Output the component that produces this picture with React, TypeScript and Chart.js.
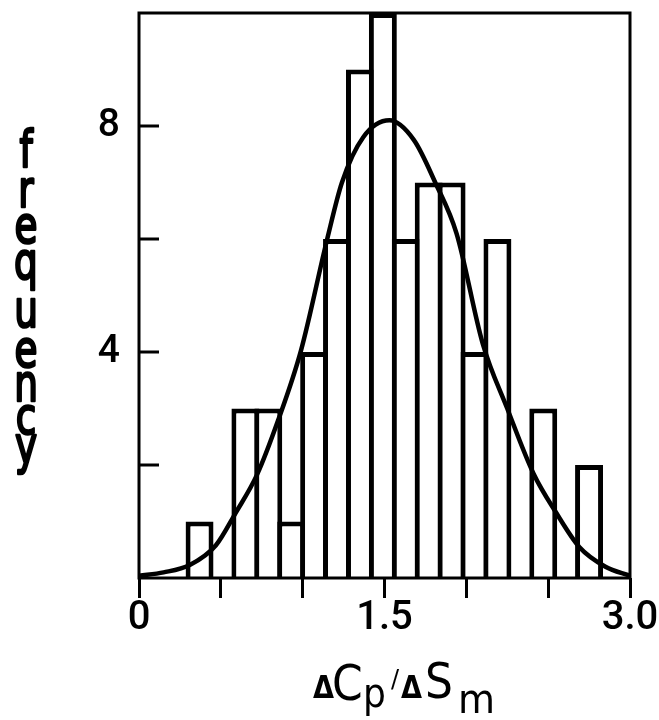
import React, { useEffect, useRef } from "react";
import { Chart, registerables } from "chart.js";

Chart.register(...registerables);

// Histogram bins (centres) and counts
const binCenters = [0.37, 0.51, 0.65, 0.79, 0.93, 1.07, 1.21, 1.35, 1.49, 1.63, 1.77, 1.91, 2.05, 2.19, 2.33, 2.47, 2.61, 2.75];
const binCounts = [1, 0, 3, 3, 1, 4, 6, 9, 10, 6, 7, 7, 4, 6, 0, 3, 0, 2];

// Fitted distribution curve
const curveX = [0, 0.15, 0.31, 0.47, 0.59, 0.72, 0.85, 0.99, 1.15, 1.24, 1.37, 1.53, 1.68, 1.81, 1.94, 2.10, 2.25, 2.41, 2.55, 2.69, 2.85, 3.0];
const curveY = [0.04, 0.1, 0.23, 0.58, 1.15, 1.82, 2.79, 4.03, 6.0, 7.0, 7.8, 8.1, 7.75, 7.0, 6.1, 4.15, 3.0, 1.85, 1.15, 0.55, 0.2, 0.04];

// Axes
const xMin = 0;
const xMax = 3.0;
const xTickStep = 0.5;
const xLabelValues = [0, 1.5, 3.0];
const yMin = 0;
const yMax = 10;
const yTickMarks = [2, 4, 6, 8];
const yLabelValues = [4, 8];
const yTitleLetters = ["f", "r", "e", "q", "u", "e", "n", "c", "y"];

const TICK_FAM = "Roboto, 'Liberation Sans', sans-serif";
const TITLE_FAM = "'DejaVu Sans', sans-serif";

const decor = {
  id: "decor",
  afterDraw(chart: any) {
    const { ctx, chartArea: ca, scales } = chart;
    ctx.save();
    ctx.strokeStyle = "#000";
    ctx.fillStyle = "#000";
    ctx.lineWidth = 3;
    ctx.lineCap = "butt";
    ctx.strokeRect(ca.left, ca.top, ca.right - ca.left, ca.bottom - ca.top);
    for (const v of yTickMarks) {
      const y = scales.y.getPixelForValue(v);
      ctx.beginPath();
      ctx.moveTo(ca.left, y);
      ctx.lineTo(ca.left + 20, y);
      ctx.stroke();
    }
    // y title: stacked upright letters (condensed horizontally)
    const baselines = [167, 207, 243, 279, 327, 367, 401, 434, 463];
    ctx.textAlign = "center";
    ctx.textBaseline = "alphabetic";
    ctx.font = `52px ${TITLE_FAM}`;
    ctx.lineWidth = 2.6;
    ctx.lineJoin = "round";
    yTitleLetters.forEach((ch, i) => {
      ctx.save();
      ctx.translate(26, baselines[i]);
      ctx.scale(0.72, 1);
      ctx.fillText(ch, 0, 0);
      ctx.strokeText(ch, 0, 0);
      ctx.restore();
    });
    // x title: ΔCp/ΔSm
    const piece = (txt: string, font: string, x: number, y: number, sx: number) => {
      ctx.save();
      ctx.font = font;
      ctx.textAlign = "left";
      ctx.translate(x, y);
      ctx.scale(sx, 1);
      ctx.fillText(txt, 0, 0);
      ctx.restore();
    };
    piece("Δ", `bold 32px ${TITLE_FAM}`, 313, 698, 0.85);
    piece("C", `50px ${TITLE_FAM}`, 332, 700, 0.88);
    piece("p", `40px ${TITLE_FAM}`, 363, 707, 0.9);
    piece("/", `24px ${TITLE_FAM}`, 391, 687, 1);
    piece("Δ", `bold 32px ${TITLE_FAM}`, 401, 698, 0.85);
    piece("S", `50px ${TITLE_FAM}`, 425, 698, 0.88);
    piece("m", `40px ${TITLE_FAM}`, 458, 713, 0.95);
    ctx.restore();
  },
};

export default function App() {
  const ref = useRef<HTMLCanvasElement | null>(null);

  useEffect(() => {
    const canvas = ref.current;
    if (!canvas) return;
    const chart = new Chart(canvas, {
      type: "bar",
      data: {
        datasets: [
          {
            type: "line",
            data: curveX.map((x, i) => ({ x, y: curveY[i] })),
            borderColor: "#000",
            borderWidth: 4.5,
            pointRadius: 0,
            fill: false,
            cubicInterpolationMode: "monotone",
          } as any,
          {
            type: "bar",
            data: binCenters.map((x, i) => ({ x, y: binCounts[i] })),
            backgroundColor: "#fff",
            borderColor: "#000",
            borderWidth: 5,
            borderSkipped: "start",
            categoryPercentage: 1,
            barPercentage: 1.219,
          } as any,
        ],
      },
      options: {
        animation: false,
        responsive: false,
        devicePixelRatio: 1,
        layout: { padding: { left: 0, top: 13, right: 29, bottom: 0 } },
        plugins: { legend: { display: false }, tooltip: { enabled: false } },
        scales: {
          x: {
            type: "linear",
            min: xMin,
            max: xMax,
            offset: false,
            border: { display: false },
            grid: {
              display: true,
              offset: false,
              drawOnChartArea: false,
              drawTicks: true,
              tickLength: 20,
              tickWidth: 3,
              tickColor: "#000",
              color: "#000",
            },
            ticks: {
              stepSize: xTickStep,
              autoSkip: false,
              maxRotation: 0,
              padding: -3,
              color: "#000",
              font: { family: TICK_FAM, size: 40, weight: "500" },
              callback: (v: any) => {
                const n = Number(v);
                const hit = xLabelValues.find((l) => Math.abs(l - n) < 1e-6);
                if (hit === undefined) return "";
                return hit === 0 ? "0" : hit.toFixed(1);
              },
            },
            afterFit: (s: any) => {
              s.height = 142;
              s.paddingLeft = 0;
              s.paddingRight = 0;
            },
          },
          y: {
            type: "linear",
            min: yMin,
            max: yMax,
            border: { display: false },
            grid: { display: false, drawTicks: false },
            ticks: {
              stepSize: 2,
              padding: 19,
              color: "#000",
              font: { family: TICK_FAM, size: 39, weight: "500" },
              callback: (v: any) => {
                const n = Number(v);
                return yLabelValues.some((l) => Math.abs(l - n) < 1e-6) ? String(n) : "";
              },
            },
            afterFit: (s: any) => {
              s.width = 139;
              s.paddingTop = 0;
              s.paddingBottom = 0;
            },
          },
        },
      },
      plugins: [decor],
    });
    return () => chart.destroy();
  }, []);

  return (
    <div style={{ position: "fixed", left: 0, top: 0, width: 659, height: 720, background: "#fff" }}>
      <canvas ref={ref} width={659} height={720} style={{ display: "block", width: 659, height: 720 }} />
    </div>
  );
}
